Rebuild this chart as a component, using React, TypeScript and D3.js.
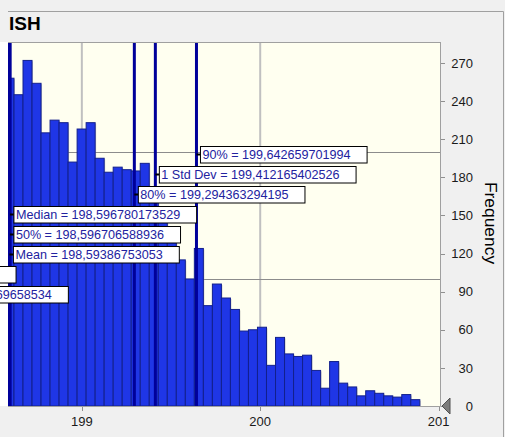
import React, { useMemo } from "react";
import * as d3 from "d3";

// ---------- data ----------
const titleText = "ISH";
const binStart = 198.569;
const binWidth = 0.05056;
const counts = [
  258, 245, 272, 254, 215, 225, 223, 192, 218, 223, 195, 184, 188, 186, 185, 191,
  168, 150, 132, 115, 100, 124, 79, 96, 85, 76, 59, 60, 62, 32, 54, 41, 39, 40, 28,
  14, 35, 18, 15, 8, 12, 10, 8, 7, 9, 5,
];
const xTicks = [199, 200, 201];
const xGrid = [199, 200];
const yTicks = [0, 30, 60, 90, 120, 150, 180, 210, 240, 270];
const yGrid = [100, 200];
const statNames = ["90%", "1 Std Dev", "80%", "Median", "50%", "Mean", "20%", "-1 Std Dev"];
const statValues = [
  199.642659701994, 199.412165402526, 199.294363294195, 198.596780173529,
  198.596706588936, 198.59386753053, 198.028, 197.775569658534,
];
const yAxisTitle = "Frequency";

// ---------- layout ----------
const W = 505;
const H = 437;
const PL = 8, PR = 440, PT = 42, PB = 406;
const FONT = "'Liberation Sans', Arial, sans-serif";
const LABEL_FS = 12.6;

function measure(text: string, font: string): number {
  if (typeof document === "undefined") return text.length * 7;
  const c = document.createElement("canvas");
  const ctx = c.getContext("2d");
  if (!ctx) return text.length * 7;
  ctx.font = font;
  return ctx.measureText(text).width;
}

export default function App() {
  const x = d3.scaleLinear().domain([198.586, 201.008]).range([PL, PR]);
  const y = d3.scaleLinear().domain([0, 286.5]).range([PB, PT]);

  const labels = useMemo(
    () =>
      statNames.map((n, i) => {
        const text = `${n} = ${String(statValues[i]).replace(".", ",")}`;
        const tw = measure(text, `${LABEL_FS}px 'Liberation Sans'`);
        return { text, tw, lx: x(statValues[i]), i };
      }),
    []
  );

  return (
    <svg
      width={W}
      height={H}
      style={{ position: "absolute", left: 0, top: 0, display: "block" }}
      fontFamily={FONT}
    >
      <defs>
        <clipPath id="plotClip">
          <rect x={PL} y={PT} width={PR - PL} height={PB - PT} />
        </clipPath>
      </defs>
      <rect x={0} y={0} width={W} height={H} fill="#f0f0f0" />
      <rect x={0} y={PT} width={PL} height={PB - PT} fill="#ffffff" />
      {/* frame lines */}
      <line x1={PL} x2={503.5} y1={11.5} y2={11.5} stroke="#a0a0a0" />
      <line x1={503.5} x2={503.5} y1={11.5} y2={H} stroke="#a0a0a0" />
      <text x={9} y={30} fontSize={19} fontWeight="bold" fill="#000">
        {titleText}
      </text>

      {/* plot bg */}
      <rect x={PL} y={PT} width={PR - PL} height={PB - PT} fill="#fffff0" />

      <g clipPath="url(#plotClip)">
        {xGrid.map((v) => (
          <line key={"xg" + v} x1={x(v)} x2={x(v)} y1={PT} y2={PB} stroke="#c0c0c0" strokeWidth={2} />
        ))}
        {yGrid.map((v) => (
          <line key={"yg" + v} x1={PL} x2={PR} y1={Math.round(y(v)) + 0.5} y2={Math.round(y(v)) + 0.5} stroke="#8c8c8c" />
        ))}
        {counts.map((c, i) => {
          const x0 = x(binStart + i * binWidth);
          const x1 = x(binStart + (i + 1) * binWidth);
          return (
            <rect
              key={"s" + i}
              x={x0 + 1}
              y={y(c) + 1}
              width={x1 - x0}
              height={PB - y(c)}
              fill="#9a9a9a"
              opacity={0.5}
            />
          );
        })}
        {counts.map((c, i) => {
          const x0 = x(binStart + i * binWidth);
          const x1 = x(binStart + (i + 1) * binWidth);
          return (
            <rect
              key={"b" + i}
              x={x0}
              y={y(c)}
              width={x1 - x0}
              height={PB - y(c)}
              fill="#1f36e6"
              stroke="#13208c"
              strokeWidth={1}
            />
          );
        })}
        {statValues.map((v, i) => (
          <line key={"sl" + i} x1={x(v)} x2={x(v)} y1={PT} y2={PB} stroke="#00009a" strokeWidth={3} />
        ))}
      </g>

      {/* plot border */}
      <line x1={PL} x2={PR + 0.5} y1={PT + 0.5} y2={PT + 0.5} stroke="#a0a0a0" />
      <line x1={PR + 0.5} x2={PR + 0.5} y1={PT} y2={PB + 0.5} stroke="#a0a0a0" />
      <line x1={PL} x2={PR + 0.5} y1={PB + 0.5} y2={PB + 0.5} stroke="#a0a0a0" />

      {/* y axis */}
      {yTicks.map((v) => (
        <g key={"yt" + v}>
          <line x1={PR + 1} x2={PR + 5} y1={Math.round(y(v)) + 0.5} y2={Math.round(y(v)) + 0.5} stroke="#909090" />
          <text x={473} y={y(v)} dy="0.36em" textAnchor="end" fontSize={13} fill="#1a1a1a">
            {v}
          </text>
        </g>
      ))}
      <text
        transform={`translate(485,223) rotate(90)`}
        textAnchor="middle"
        fontSize={17.4}
        fill="#000"
      >
        {yAxisTitle}
      </text>
      <polygon points={`${PR + 2},${PB} ${PR + 10},${PB - 8} ${PR + 10},${PB + 8}`} fill="#7c7c7c" stroke="#505050" />

      {/* x axis */}
      {xTicks.map((v) => (
        <g key={"xt" + v}>
          <line x1={Math.round(x(v)) + 0.5} x2={Math.round(x(v)) + 0.5} y1={PB + 1} y2={PB + 5} stroke="#909090" />
          <text x={x(v)} y={426} textAnchor="middle" fontSize={13} fill="#1a1a1a">
            {v}
          </text>
        </g>
      ))}

      {/* stat labels */}
      {labels.map((l) => {
        const top = 146 + 20 * l.i;
        const bx = l.lx + 4;
        const bw = l.tw + 18.5;
        return (
          <g key={"lb" + l.i}>
            <line x1={l.lx} x2={bx} y1={top + 8.5} y2={top + 8.5} stroke="#000" strokeWidth={2} />
            <rect x={bx} y={top + 0.5} width={bw} height={16.5} fill="#ffffff" stroke="#000" strokeWidth={1} />
            <text x={bx + 2} y={top + 13} fontSize={LABEL_FS} fill="#2222a0">
              {l.text}
            </text>
          </g>
        );
      })}
    </svg>
  );
}
